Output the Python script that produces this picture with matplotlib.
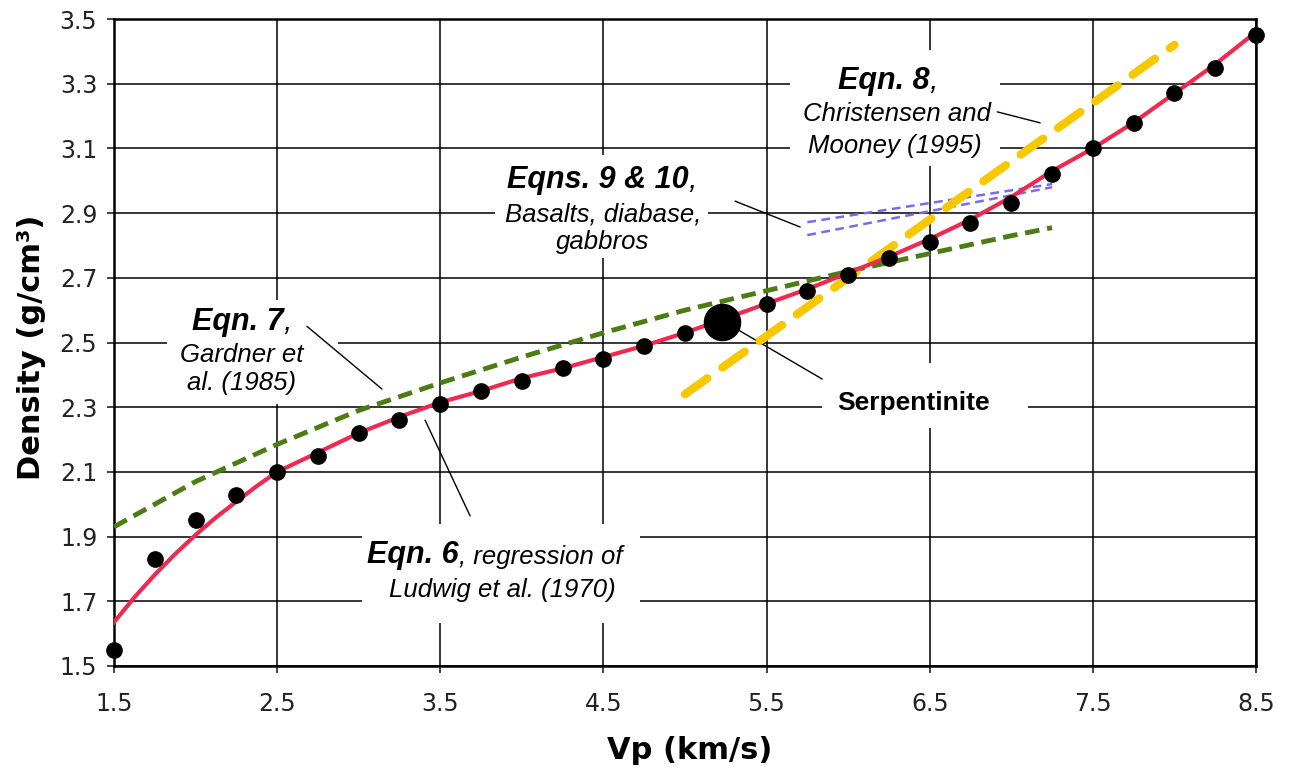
import matplotlib
matplotlib.use('Agg')
import matplotlib.pyplot as plt
from matplotlib.patches import Rectangle

# Ludwig et al. (1970) data points (Vp in km/s, density g/cm3)
vp_pts = [1.5, 1.75, 2.0, 2.25, 2.5, 2.75, 3.0, 3.25, 3.5, 3.75, 4.0, 4.25, 4.5, 4.75,
          5.0, 5.25, 5.5, 5.75, 6.0, 6.25, 6.5, 6.75, 7.0, 7.25, 7.5, 7.75, 8.0, 8.25, 8.5]
rho_pts = [1.55, 1.83, 1.95, 2.03, 2.10, 2.15, 2.22, 2.26, 2.31, 2.35, 2.38, 2.42, 2.45, 2.49,
           2.53, 2.57, 2.62, 2.66, 2.71, 2.76, 2.81, 2.87, 2.93, 3.02, 3.10, 3.18, 3.27, 3.35, 3.45]

# Eqn 6 regression curve
eqn6_vp = [1.5, 1.625, 1.75, 1.875, 2.0, 2.125, 2.25, 2.375, 2.5, 2.75, 3.0, 3.25, 3.5, 3.75,
           4.0, 4.25, 4.5, 4.75, 5.0, 5.25, 5.5, 5.75, 6.0, 6.25, 6.5, 6.75, 7.0, 7.25, 7.5,
           7.75, 8.0, 8.25, 8.5]
eqn6_rho = [1.635, 1.712, 1.782, 1.846, 1.905, 1.959, 2.008, 2.056, 2.10, 2.16, 2.22, 2.27, 2.315,
            2.35, 2.39, 2.42, 2.455, 2.49, 2.53, 2.575, 2.62, 2.665, 2.715, 2.765, 2.82, 2.88,
            2.95, 3.03, 3.10, 3.18, 3.27, 3.36, 3.46]

# Eqn 7, Gardner et al. (1985)
eqn7_vp = [1.5, 2.0, 2.5, 3.0, 3.5, 4.0, 4.5, 5.0, 5.5, 6.0, 6.5, 7.0, 7.25]
eqn7_rho = [1.93, 2.07, 2.185, 2.29, 2.375, 2.455, 2.53, 2.60, 2.66, 2.72, 2.775, 2.83, 2.855]

# Eqn 8, Christensen and Mooney (1995)
eqn8_vp = [5.0, 8.0]
eqn8_rho = [2.34, 3.42]

# Eqns 9 & 10, basalts, diabase, gabbros
eqn9_vp = [5.75, 7.25]
eqn9_rho = [2.872, 2.99]
eqn10_vp = [5.75, 7.25]
eqn10_rho = [2.832, 2.98]

# Serpentinite
serp_vp = [5.23]
serp_rho = [2.563]

TXT = 'Liberation Sans'
BOLD_SIZE = 22
IT_SIZE = 18.5

fig = plt.figure(figsize=(12.89, 7.67), dpi=100)
ax = fig.add_axes([0.0884, 0.1317, 0.886, 0.8435])

ax.set_xlim(1.5, 8.5)
ax.set_ylim(1.5, 3.5)
ax.set_xticks([1.5, 2.5, 3.5, 4.5, 5.5, 6.5, 7.5, 8.5])
ax.set_yticks([1.5, 1.7, 1.9, 2.1, 2.3, 2.5, 2.7, 2.9, 3.1, 3.3, 3.5])
ax.set_xticklabels(['1.5', '2.5', '3.5', '4.5', '5.5', '6.5', '7.5', '8.5'])
ax.set_yticklabels(['1.5', '1.7', '1.9', '2.1', '2.3', '2.5', '2.7', '2.9', '3.1', '3.3', '3.5'])
ax.set_axisbelow(True)
ax.grid(True, color='black', linewidth=1.1)
ax.tick_params(axis='x', direction='out', length=5, width=1.2, pad=14, labelsize=17, colors='#222222')
ax.tick_params(axis='y', direction='out', length=5, width=1.2, pad=7, labelsize=17, colors='#222222')
for sp in ax.spines.values():
    sp.set_linewidth(1.8)

ax.set_xlabel('Vp (km/s)', fontsize=22, fontweight='bold')
ax.set_ylabel('Density (g/cm³)', fontsize=22, fontweight='bold')
ax.xaxis.set_label_coords(0.504, -0.108)
ax.yaxis.set_label_coords(-0.0595, 0.493)

# white boxes behind the annotations (hide grid)
boxes = [(1.825, 2.31, 1.05, 0.32), (3.02, 1.633, 1.705, 0.307), (3.836, 2.76, 1.306, 0.32),
         (5.645, 3.046, 1.285, 0.358), (5.84, 2.236, 1.264, 0.201)]
for bx, by, bw, bh in boxes:
    ax.add_patch(Rectangle((bx, by), bw, bh, facecolor='white', edgecolor='none', zorder=1))

# curves
ax.plot(eqn7_vp, eqn7_rho, color='#4B7D14', lw=3.5, dashes=(3.0, 1.6), zorder=3)
ax.plot(eqn9_vp, eqn9_rho, color='#7B68EE', lw=1.8, dashes=(3.5, 2.2), zorder=3)
ax.plot(eqn10_vp, eqn10_rho, color='#7B68EE', lw=1.8, dashes=(3.5, 2.2), zorder=3)
ax.plot(eqn8_vp, eqn8_rho, color='#F7C800', lw=6, dashes=(3.3, 2.2), dash_capstyle='round', zorder=4)
ax.plot(eqn6_vp, eqn6_rho, color='#EE2A50', lw=3, zorder=5)
ax.plot(vp_pts, rho_pts, 'o', color='black', markersize=11, zorder=6, clip_on=False)
ax.plot(serp_vp, serp_rho, 'o', color='black', markersize=26, zorder=6)


def bold_with_tail(x, y, head, tail, tail_size):
    t = ax.text(x, y, head, fontsize=BOLD_SIZE, fontweight='bold', style='italic',
                family=TXT, ha='left', va='baseline', zorder=7)
    off = (BOLD_SIZE - tail_size) * 0.212
    ax.annotate(tail, xy=(1, 0), xycoords=t, xytext=(0, off), textcoords='offset points',
                fontsize=tail_size, style='italic', family=TXT, ha='left', va='bottom', zorder=7)


def it(x, y, s):
    ax.text(x, y, s, fontsize=IT_SIZE, style='italic', family=TXT, ha='center', va='baseline', zorder=7)


# Eqn 8
bold_with_tail(5.938, 3.284, 'Eqn. 8', ',', BOLD_SIZE)
it(6.30, 3.185, 'Christensen and')
it(6.287, 3.086, 'Mooney (1995)')
# Eqns 9 & 10
bold_with_tail(3.909, 2.978, 'Eqns. 9 & 10', ',', BOLD_SIZE)
it(4.497, 2.875, 'Basalts, diabase,')
it(4.497, 2.788, 'gabbros')
# Eqn 7
bold_with_tail(1.978, 2.538, 'Eqn. 7', ',', BOLD_SIZE)
it(2.285, 2.44, 'Gardner et')
it(2.285, 2.352, 'al. (1985)')
# Eqn 6
bold_with_tail(3.051, 1.818, 'Eqn. 6', ', regression of', IT_SIZE)
it(3.878, 1.713, 'Ludwig et al. (1970)')
# Serpentinite
ax.text(6.398, 2.292, 'Serpentinite', fontsize=19, fontweight='bold', family=TXT,
        ha='center', va='baseline', zorder=7)

# leader lines
leaders = [((6.914, 3.213), (7.177, 3.179)), ((5.307, 2.937), (5.706, 2.857)),
           ((2.683, 2.55), (3.143, 2.356)), ((3.683, 1.964), (3.407, 2.26)),
           ((5.841, 2.387), (5.326, 2.539))]
for start, end in leaders:
    ax.annotate('', xy=end, xytext=start,
                arrowprops=dict(arrowstyle='-', color='black', lw=1.0, shrinkA=0, shrinkB=0),
                zorder=2)

fig.savefig('out.png', dpi=100)
